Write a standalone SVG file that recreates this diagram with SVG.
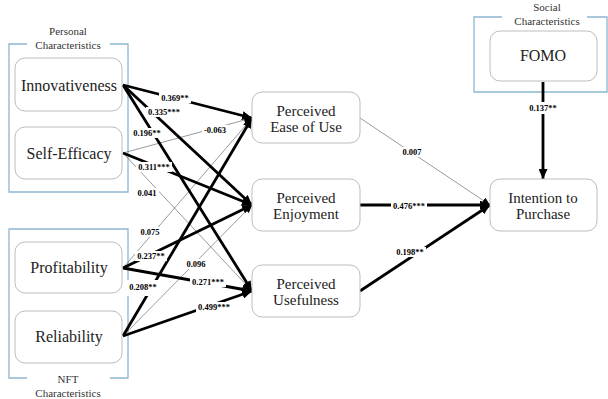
<svg xmlns="http://www.w3.org/2000/svg" width="608" height="399" viewBox="0 0 608 399">
<defs>
<style>
.box{fill:#fff;stroke:#bdbdbd;stroke-width:1}
.frame{fill:none;stroke:#8db6cf;stroke-width:1.3}
.nt{font-family:"Liberation Serif","Times New Roman",serif;font-size:16px;fill:#222;text-anchor:middle}
.mt{font-family:"Liberation Serif","Times New Roman",serif;font-size:15px;fill:#222;text-anchor:middle}
.gt{font-family:"Liberation Serif","Times New Roman",serif;font-size:11px;fill:#333;text-anchor:middle}
.lb{font-family:"Liberation Serif","Times New Roman",serif;font-size:8.5px;font-weight:bold;fill:#000;text-anchor:middle}
.bg{fill:#fff;stroke:none}
.thick{stroke:#000;stroke-width:2.8;fill:none;marker-end:url(#ah)}
.thin{stroke:#555;stroke-width:0.6;fill:none;marker-end:url(#ah2)}
</style>
<marker id="ah" markerUnits="userSpaceOnUse" markerWidth="11" markerHeight="9" refX="10" refY="4.5" orient="auto"><path d="M0,0 L10,4.5 L0,9 z" fill="#000"/></marker>
<marker id="ah2" markerUnits="userSpaceOnUse" markerWidth="9" markerHeight="7" refX="8" refY="3.5" orient="auto"><path d="M0,0 L8,3.5 L0,7 z" fill="#000"/></marker>
</defs>
<rect width="608" height="399" fill="#fff"/>

<g id="frames">
<path class="frame" d="M27,44 H9 V192 H128 V44 H110"/>
<text class="gt" x="68" y="35">Personal</text>
<text class="gt" x="68" y="49">Characteristics</text>
<path class="frame" d="M27,378 H9 V229 H128 V378 H110"/>
<text class="gt" x="68" y="383">NFT</text>
<text class="gt" x="68" y="397">Characteristics</text>
<path class="frame" d="M502,17 H474 V92 H607 V17 H587"/>
<text class="gt" x="547" y="11">Social</text>
<text class="gt" x="547" y="25">Characteristics</text>
</g>

<g id="connectors">
<line class="thin" x1="123" y1="153" x2="252" y2="118"/>
<line class="thin" x1="123" y1="153" x2="252" y2="291"/>
<line class="thin" x1="123" y1="268" x2="252" y2="118"/>
<line class="thin" x1="123" y1="336" x2="252" y2="205"/>
<line class="thin" x1="360" y1="118" x2="490" y2="205"/>
<line class="thick" x1="123" y1="85" x2="252" y2="118"/>
<line class="thick" x1="123" y1="85" x2="252" y2="205"/>
<line class="thick" x1="123" y1="85" x2="252" y2="291"/>
<line class="thick" x1="123" y1="153" x2="252" y2="205"/>
<line class="thick" x1="123" y1="268" x2="252" y2="205"/>
<line class="thick" x1="123" y1="268" x2="252" y2="291"/>
<line class="thick" x1="123" y1="336" x2="252" y2="118"/>
<line class="thick" x1="123" y1="336" x2="252" y2="291"/>
<line class="thick" x1="360" y1="205" x2="490" y2="205"/>
<line class="thick" x1="360" y1="291" x2="490" y2="205"/>
<line class="thick" x1="543" y1="82" x2="543" y2="179"/>
<g id="label-bg">
<rect class="bg" x="159" y="93" width="32" height="10"/>
<rect class="bg" x="146" y="107" width="36" height="10"/>
<rect class="bg" x="131" y="128" width="32" height="10"/>
<rect class="bg" x="202" y="125" width="26" height="10"/>
<rect class="bg" x="136" y="162" width="36" height="10"/>
<rect class="bg" x="136" y="188" width="23" height="10"/>
<rect class="bg" x="139" y="227" width="23" height="10"/>
<rect class="bg" x="135" y="251" width="32" height="10"/>
<rect class="bg" x="185" y="259" width="23" height="10"/>
<rect class="bg" x="190" y="277" width="36" height="10"/>
<rect class="bg" x="127" y="280" width="32" height="16"/>
<rect class="bg" x="196" y="302" width="36" height="10"/>
<rect class="bg" x="401" y="147" width="23" height="10"/>
<rect class="bg" x="391" y="201" width="36" height="10"/>
<rect class="bg" x="394" y="247" width="32" height="10"/>
<rect class="bg" x="527" y="102" width="32" height="12"/>
</g>
<g id="labels">
<text class="lb" x="175" y="101">0.369**</text>
<text class="lb" x="164" y="115">0.335***</text>
<text class="lb" x="147" y="136">0.196**</text>
<text class="lb" x="215" y="133">-0.063</text>
<text class="lb" x="154" y="170">0.311***</text>
<text class="lb" x="147" y="196">0.041</text>
<text class="lb" x="150" y="235">0.075</text>
<text class="lb" x="151" y="259">0.237**</text>
<text class="lb" x="196" y="267">0.096</text>
<text class="lb" x="208" y="285">0.271***</text>
<text class="lb" x="143" y="290">0.208**</text>
<text class="lb" x="214" y="310">0.499***</text>
<text class="lb" x="412" y="155">0.007</text>
<text class="lb" x="409" y="209">0.476***</text>
<text class="lb" x="410" y="255">0.198**</text>
<text class="lb" x="543" y="111">0.137**</text>
</g>
</g>

<g id="innovativeness"><rect class="box" x="15" y="58" width="107" height="53" rx="10"/><text class="nt" x="69" y="91">Innovativeness</text></g>
<g id="self-efficacy"><rect class="box" x="15" y="127" width="107" height="52" rx="10"/><text class="nt" x="69" y="159">Self-Efficacy</text></g>
<g id="profitability"><rect class="box" x="15" y="242" width="107" height="51" rx="10"/><text class="nt" x="69" y="273">Profitability</text></g>
<g id="reliability"><rect class="box" x="15" y="311" width="107" height="52" rx="10"/><text class="nt" x="69" y="342">Reliability</text></g>
<g id="peou"><rect class="box" x="252" y="92" width="108" height="51" rx="10"/><text class="mt" x="306" y="115.5">Perceived</text><text class="mt" x="306" y="132">Ease of Use</text></g>
<g id="pe"><rect class="box" x="252" y="179" width="108" height="52" rx="10"/><text class="mt" x="306" y="202.5">Perceived</text><text class="mt" x="306" y="219">Enjoyment</text></g>
<g id="pu"><rect class="box" x="252" y="265" width="108" height="52" rx="10"/><text class="mt" x="306" y="288.5">Perceived</text><text class="mt" x="306" y="305">Usefulness</text></g>
<g id="fomo"><rect class="box" x="490" y="31" width="107" height="50" rx="10"/><text class="nt" x="543" y="61">FOMO</text></g>
<g id="intention"><rect class="box" x="490" y="179" width="107" height="52" rx="10"/><text class="mt" x="543" y="202.5">Intention to</text><text class="mt" x="543" y="219">Purchase</text></g>
</svg>
